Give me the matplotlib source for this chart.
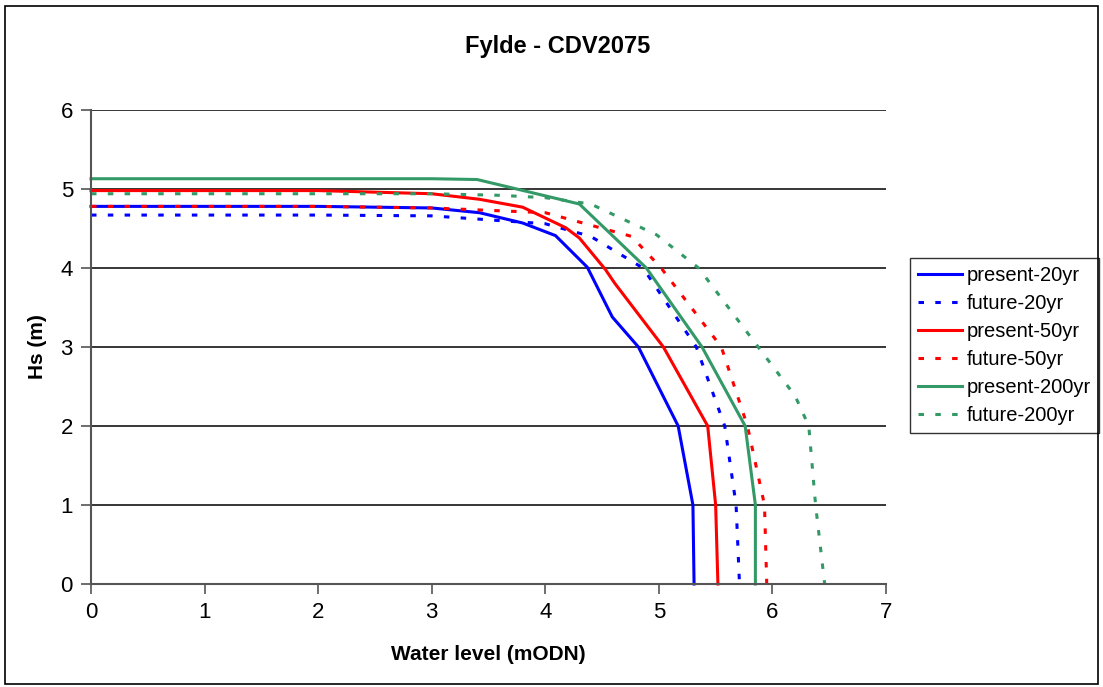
import matplotlib
matplotlib.use("Agg")
import matplotlib.pyplot as plt
from matplotlib.patches import Rectangle

plt.rcParams['font.family'] = ['Liberation Sans', 'DejaVu Sans']

# water level (mODN) vs significant wave height Hs (m)
present_20_x = [0, 1, 2, 3, 3.42, 3.80, 4.09, 4.37, 4.59, 4.82, 5.17, 5.30, 5.31]
present_20_y = [4.78, 4.78, 4.78, 4.76, 4.70, 4.57, 4.41, 4.01, 3.38, 3.0, 2.0, 1.0, 0]

future_20_x = [0, 1, 2, 3, 4.0, 4.40, 4.86, 5.33, 5.58, 5.68, 5.71]
future_20_y = [4.67, 4.67, 4.67, 4.66, 4.56, 4.40, 4.0, 3.0, 2.0, 1.0, 0]

present_50_x = [0, 1, 2, 3, 3.42, 3.80, 4.18, 4.30, 4.53, 4.61, 5.04, 5.43, 5.50, 5.52]
present_50_y = [4.98, 4.98, 4.98, 4.94, 4.87, 4.77, 4.51, 4.38, 3.98, 3.81, 3.0, 2.0, 1.0, 0]

future_50_x = [0, 1, 2, 3, 4.0, 4.76, 5.02, 5.55, 5.78, 5.93, 5.95]
future_50_y = [4.78, 4.78, 4.78, 4.76, 4.70, 4.40, 4.0, 3.0, 2.0, 1.0, 0]

present_200_x = [0, 1, 2, 3, 3.40, 4.30, 4.89, 5.38, 5.76, 5.85, 5.85]
present_200_y = [5.13, 5.13, 5.13, 5.13, 5.12, 4.81, 4.0, 3.0, 2.0, 1.0, 0]

future_200_x = [0, 1, 2, 3, 3.6, 4.0, 4.4, 4.98, 5.35, 6.20, 6.32, 6.38, 6.46]
future_200_y = [4.94, 4.94, 4.94, 4.94, 4.92, 4.89, 4.81, 4.42, 4.0, 2.38, 2.0, 1.0, 0]

dashed = (0, (1.8, 3.7))
series = [
    ("present-20yr", present_20_x, present_20_y, "#0000FF", "-"),
    ("future-20yr", future_20_x, future_20_y, "#0000FF", dashed),
    ("present-50yr", present_50_x, present_50_y, "#FF0000", "-"),
    ("future-50yr", future_50_x, future_50_y, "#FF0000", dashed),
    ("present-200yr", present_200_x, present_200_y, "#339966", "-"),
    ("future-200yr", future_200_x, future_200_y, "#339966", dashed),
]

fig = plt.figure(figsize=(11.03, 6.87), dpi=100)
ax = fig.add_axes([91 / 1103, 1 - 584 / 687, (886 - 91) / 1103, (584 - 110) / 687])

for label, xs, ys, color, ls in series:
    ax.plot(xs, ys, color=color, linestyle=ls, linewidth=2.2, label=label,
            solid_joinstyle="miter", clip_on=False)

ax.set_xlim(0, 7)
ax.set_ylim(0, 6)
ax.set_xticks(range(0, 8))
ax.set_yticks(range(0, 7))
ax.yaxis.grid(True, color="black", linewidth=1.1)
ax.set_axisbelow(True)

for side in ["top", "right"]:
    ax.spines[side].set_visible(False)
for side in ["left", "bottom"]:
    ax.spines[side].set_color("#555555")
    ax.spines[side].set_linewidth(1.5)
ax.tick_params(direction="out", length=7, width=1.2, color="#555555",
               labelsize=16, pad=6)

ax.set_xlabel("Water level (mODN)", fontsize=15, fontweight="bold", labelpad=16)
ax.set_ylabel("Hs (m)", fontsize=15, fontweight="bold", labelpad=10)
fig.text(558 / 1103, 1 - 47 / 687, "Fylde - CDV2075", fontsize=17,
         fontweight="bold", ha="center", va="center")

leg = ax.legend(loc="upper left", bbox_to_anchor=(910 / 1103, 1 - 258 / 687),
                bbox_transform=fig.transFigure, fontsize=14.5, frameon=True,
                fancybox=False, edgecolor="black", handlelength=2.2,
                handletextpad=0.2, labelspacing=0.45, borderpad=0.4,
                borderaxespad=0)
leg.get_frame().set_linewidth(1.0)

# outer chart border
fig.patches.append(Rectangle((5 / 1103, 1 - 684 / 687), 1093 / 1103, 678 / 687,
                             transform=fig.transFigure, fill=False,
                             edgecolor="black", linewidth=1.2))

fig.savefig("out.png", dpi=100)
